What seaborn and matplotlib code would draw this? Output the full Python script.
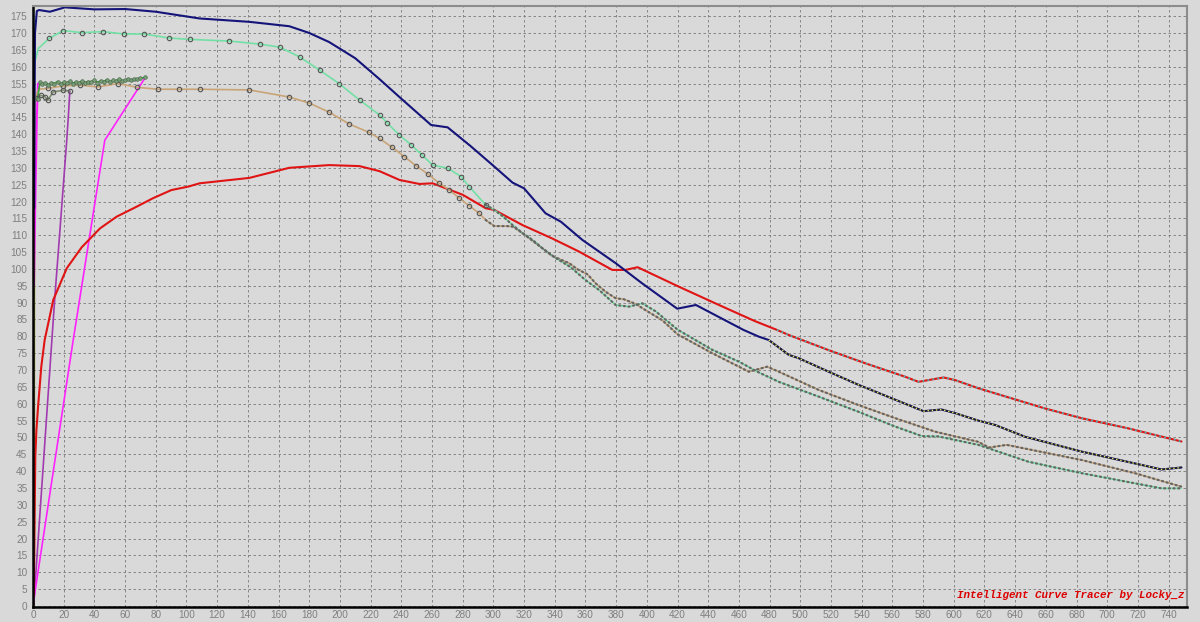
import matplotlib
matplotlib.use("Agg")
import matplotlib.pyplot as plt
import numpy as np
import seaborn as sns

# ------------------------------
# DATA
# ------------------------------
navy_x = [0.8, 1.0, 1.3, 2.5, 4, 11, 20.8, 40, 60, 80, 108.6, 141, 167, 180, 193, 210,
          225.8, 240, 259.4, 270.2, 285, 299.5, 312.5, 320, 334, 344, 358, 379.7, 397,
          419.8, 432, 463, 473, 479.5, 492.5, 499, 518.5, 538, 559.7, 580.3, 592, 601,
          616, 627, 646.5, 683.4, 718, 735.4, 748.4]
navy_y = [118, 147, 170, 176.5, 176.8, 176.3, 177.6, 177.0, 177.1, 176.3, 174.3, 173.3,
          172.0, 170.0, 167.3, 162.5, 156.3, 150.5, 142.7, 142.0, 136.5, 130.8, 125.6,
          123.9, 116.5, 114.0, 108.6, 101.7, 95.7, 88.2, 89.3, 81.9, 79.9, 78.9, 74.5,
          73.5, 69.5, 65.6, 61.6, 57.8, 58.3, 57.2, 55.0, 53.7, 50.2, 45.8, 42.3, 40.5, 41.1]

green_x = [0.2, 1.5, 3.5, 10.6, 19.7, 31.7, 45.8, 59.4, 72.4, 88.7, 102, 128, 147.7, 160.7,
           173.7, 186.7, 199.7, 212.8, 225.8, 231, 238.8, 246.4, 253.5, 260.4, 270.2, 278.9,
           284.3, 295, 300.6, 307, 312.5, 319, 325.5, 332, 340.7, 350.4, 360, 369, 379.7,
           388.4, 397, 405.8, 420, 442.6, 460, 472, 486, 512, 538, 562, 579.3, 590, 616,
           648.6, 683.4, 718, 735.4, 748]
green_y = [176.8, 162, 165.4, 168.4, 170.7, 170.1, 170.4, 169.7, 169.7, 168.5, 168.1, 167.6,
           166.7, 165.8, 162.9, 159.0, 154.9, 150.1, 145.7, 143.2, 139.7, 136.8, 133.8, 130.8,
           129.9, 127.4, 124.4, 119.0, 117.5, 115.3, 113.0, 110.6, 108.6, 106.1, 103.2, 100.5,
           96.7, 93.7, 89.3, 88.8, 89.8, 87.4, 82.0, 76.0, 72.5, 69.5, 66.5, 62.1, 57.6, 53.2,
           50.4, 50.3, 47.8, 42.8, 39.4, 36.4, 34.9, 34.9]

tan_x = [0.9, 2.0, 3.5, 10, 19.7, 30.6, 42.5, 55.5, 67.5, 81.5, 95, 108.6, 141, 167, 180, 193,
         206, 219, 225.8, 234, 242, 249.6, 257.2, 264.8, 271.3, 277.8, 284.3, 290.8, 295,
         300.6, 309, 313, 319, 327.7, 338.5, 349.4, 354.8, 361.3, 366.7, 373.2, 379.7, 385,
         392.8, 399, 410, 420, 442.6, 466.5, 478.4, 486, 512, 538, 562, 588, 616, 623, 634.5,
         683.4, 718, 748.4]
tan_y = [147, 151, 153.3, 153.6, 154.3, 154.5, 154.0, 155.0, 153.9, 153.3, 153.3, 153.3,
         153.1, 151.0, 149.2, 146.5, 143.0, 140.5, 138.7, 136.1, 133.3, 130.6, 128.2, 125.4,
         123.4, 121.0, 118.7, 116.5, 114.5, 112.7, 112.7, 112.5, 110.6, 107.6, 103.8, 101.7,
         99.9, 98.4, 95.7, 93.2, 91.3, 91.0, 89.6, 87.8, 84.8, 80.6, 75.0, 69.5, 71.0, 69.5,
         64.1, 59.6, 55.7, 51.7, 48.7, 47.0, 47.8, 43.3, 39.4, 35.4]

red_x = [0.5, 1.5, 2.2, 3.3, 5.4, 7.6, 13.2, 22, 31.7, 43.6, 54.5, 66.4, 78.3, 90.2, 101,
         108.6, 141, 167, 193, 212.8, 225.8, 238.8, 251.8, 260.4, 280, 295, 300.6, 319,
         338.5, 356, 377.5, 386, 394, 421, 447, 470, 484.8, 492.5, 518.5, 542.4, 568.4, 577,
         593.4, 601, 616, 659.5, 683.4, 713.7, 748.4]
red_y = [3, 44.3, 52, 59.1, 71, 78.9, 90.8, 100.2, 106.4, 112, 115.5, 118.2, 121, 123.4,
         124.4, 125.4, 127, 130, 130.8, 130.5, 129, 126.4, 125.2, 125.4, 122, 118, 117.5,
         113, 109, 105.1, 99.7, 99.7, 100.5, 94.7, 89.3, 84.6, 81.9, 80.4, 75.9, 72, 68,
         66.5, 67.8, 67, 64.6, 58.6, 55.7, 52.7, 48.8]

dkgreen_x = [3.0, 4.6, 6, 8, 10, 12, 14, 16, 18, 20, 22, 24, 26, 28, 30, 32, 34, 36, 38, 40,
             42, 44, 46, 48, 50, 52, 54, 56, 58, 60, 62, 64, 66, 68, 70, 72.9]
dkgreen_y = [150.5, 155.5, 154.8, 155.3, 154.6, 155.2, 155.0, 155.6, 154.9, 155.4, 155.1,
             155.7, 155.0, 155.5, 155.2, 155.8, 155.3, 155.6, 155.4, 155.9, 155.3, 155.8,
             155.6, 156.1, 155.5, 155.9, 155.7, 156.2, 155.8, 156.0, 156.3, 155.9, 156.4,
             156.2, 156.5, 156.8]

grgreen_x = [2.4, 5, 7.8, 9.5, 13.2, 19.7, 24]
grgreen_y = [150.6, 151.5, 151.1, 150.0, 152.5, 153.0, 152.8]

purple_x = [24, 23, 22, 14.1, 1.1, 0.5]
purple_y = [152.8, 145, 138.2, 90.8, 4.7, 0.5]

magenta_x = [0.5, 26.2, 46.8, 72.9]
magenta_y = [1.8, 78.9, 138.2, 156.6]
magenta2_x = [0.6, 1.5, 2.5, 3.2]
magenta2_y = [95, 120, 145, 155]

olive_x = [0.4, 0.6, 0.9]
olive_y = [0, 100, 147]

x_ticks = list(range(0, 741, 20))
y_ticks = list(range(0, 176, 5))

# ------------------------------
# STYLE
# ------------------------------
BG = "#d9d9d9"
sns.set_style("whitegrid", {"axes.facecolor": BG, "figure.facecolor": BG,
                            "grid.color": "#7a7a7a", "grid.linestyle": (0, (3, 3))})
plt.rcParams["font.family"] = ["Liberation Sans", "DejaVu Sans"]

fig = plt.figure(figsize=(12, 6.22), dpi=100)
ax = fig.add_axes([33 / 1200, 15 / 622, 1154 / 1200, 601 / 622])
ax.set_facecolor(BG)


def line(x, y, color, lw):
    sns.lineplot(x=x, y=y, sort=False, estimator=None, color=color, linewidth=lw, ax=ax)


line(olive_x, olive_y, "#a5a545", 2.0)
line(purple_x, purple_y, "#a23ab0", 1.2)
line(magenta_x, magenta_y, "#ff22ff", 1.2)
line(magenta2_x, magenta2_y, "#ff22ff", 1.5)
line(red_x, red_y, "#e01414", 1.5)
line(tan_x, tan_y, "#c9a477", 1.2)
line(green_x, green_y, "#72e0a4", 1.2)
line(grgreen_x, grgreen_y, "#7d8d6e", 1.2)
line(dkgreen_x, dkgreen_y, "#3c9e3c", 1.2)
line(navy_x, navy_y, "#14147a", 1.5)

# point markers on the early part of the traced curves
mk = dict(marker="o", markersize=3.2, markerfacecolor="none", markeredgecolor="#555555",
          markeredgewidth=0.8, linestyle="none")
ax.plot(green_x[3:28], green_y[3:28], **mk)
ax.plot(tan_x[3:28], tan_y[3:28], **mk)
ax.plot(grgreen_x, grgreen_y, **mk)
ax.plot(dkgreen_x, dkgreen_y, marker="o", markersize=2.6, markerfacecolor="#7aa07a",
        markeredgecolor="#4a6a4a", markeredgewidth=0.5, linestyle="none")

# dense traced tails
dots = dict(linestyle=(0, (0.5, 1.6)), dash_capstyle="round", linewidth=1.6, color="#666666")
ax.plot(green_x[27:], green_y[27:], **dots)
ax.plot(tan_x[28:], tan_y[28:], **dots)
ax.plot(navy_x[33:], navy_y[33:], color="#202020", linewidth=1.0)
ax.plot(navy_x[33:], navy_y[33:], linestyle=(0, (1, 2)), color="#e8e870", linewidth=1.0)
ax.plot(red_x[36:], red_y[36:], linestyle=(0, (1, 2)), color="#40c0c0", linewidth=1.2)

# ------------------------------
# AXES
# ------------------------------
ax.set_xlim(0, 752)
ax.set_ylim(-0.3, 178)
ax.set_xticks(x_ticks)
ax.set_yticks(y_ticks)
ax.set_xticks(np.arange(0, 752, 5), minor=True)
ax.grid(True, which="major", linewidth=0.6)
ax.grid(False, which="minor")
ax.tick_params(axis="both", which="major", labelsize=7.2, labelcolor="#7f7f7f",
               color="black", direction="out", length=2.5, width=1, pad=1.5)
ax.tick_params(axis="x", which="minor", color="black", direction="out", length=1.5, width=0.8)
ax.tick_params(axis="x", which="major", length=2, pad=0.5)
ax.set_xlabel("")
ax.set_ylabel("")
for side in ["left", "bottom"]:
    ax.spines[side].set_color("black")
    ax.spines[side].set_linewidth(1.8)
for side in ["top", "right"]:
    ax.spines[side].set_color("#8c8c8c")
    ax.spines[side].set_linewidth(1.5)

ax.text(0.998, 0.012, "Intelligent Curve Tracer by Locky_z", transform=ax.transAxes,
        ha="right", va="bottom", family="Liberation Mono", fontweight="bold",
        fontstyle="italic", color="#dd0000", fontsize=7.8)

fig.savefig("out.png", dpi=100, facecolor=BG)
